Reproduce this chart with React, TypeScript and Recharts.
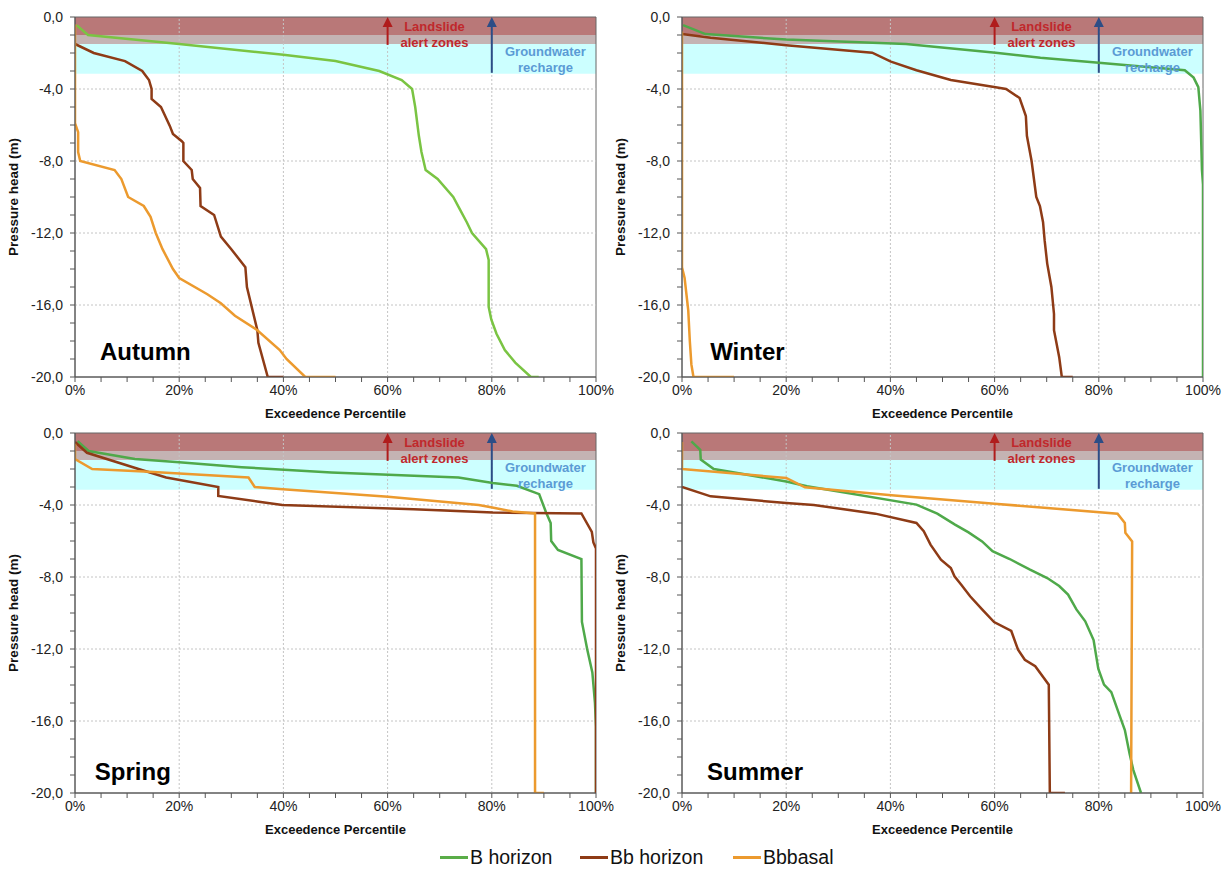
import {
  LineChart,
  Line,
  XAxis,
  YAxis,
  ReferenceArea,
  ReferenceLine,
  ReferenceDot,
} from "recharts"

type Pt = [number, number]

// exceedence percentile (%), pressure head (m)
const autumnB: Pt[] = [[0.3, -0.45], [2.5, -1.0], [20, -1.5], [40, -2.1], [50, -2.45], [58.4, -3.0], [62.7, -3.5], [64.7, -4.0], [65.3, -5.0], [66, -6.6], [66.5, -7.5], [67.3, -8.5], [69.6, -9.0], [72.6, -10.0], [73.9, -10.7], [75.2, -11.4], [76.2, -12.0], [78.9, -12.9], [79.4, -13.5], [79.4, -16.1], [79.9, -16.8], [80.9, -17.6], [82.5, -18.5], [84.5, -19.2], [87.5, -20], [89, -20]]
const autumnBb: Pt[] = [[0, -1.5], [3.6, -2.0], [9.6, -2.45], [12.9, -3.0], [14.2, -3.5], [14.7, -4.0], [14.7, -4.55], [16.5, -5.0], [18.2, -6.05], [18.8, -6.5], [20.5, -6.9], [20.8, -7.0], [20.8, -8.0], [22.4, -8.5], [22.6, -9.0], [24, -9.5], [24.1, -10.5], [26.7, -11.0], [28, -12.2], [30, -12.9], [32.7, -13.9], [33, -15.0], [35, -17.4], [35.2, -18.1], [37, -20], [40, -20]]
const autumnBbb: Pt[] = [[0, -0.4], [0, -5.9], [0.6, -6.4], [0.6, -7.5], [1, -8.0], [7.6, -8.5], [8.9, -9.0], [10.2, -10.0], [13.2, -10.5], [14.5, -11.1], [15.5, -12.0], [16.8, -12.9], [18.8, -14.0], [20, -14.5], [25.4, -15.4], [28, -15.9], [30.7, -16.6], [35, -17.4], [39.3, -18.5], [40.6, -19.0], [44.2, -20], [50, -20]]

const winterB: Pt[] = [[0.2, -0.45], [4.5, -0.95], [20, -1.25], [43, -1.5], [60.2, -1.98], [68.8, -2.26], [80, -2.54], [96.5, -2.96], [98.2, -3.37], [99.1, -3.9], [99.5, -5.2], [99.8, -8.5], [100, -9.3], [100, -20]]
const winterBb: Pt[] = [[0, -0.95], [5.5, -1.15], [20, -1.57], [36.5, -1.98], [40.1, -2.48], [45, -2.96], [51.6, -3.5], [60.2, -3.9], [62.2, -4.0], [64.8, -4.5], [66, -5.5], [66.2, -6.6], [67.1, -8.0], [68, -10.0], [68.7, -10.5], [69.3, -11.4], [69.6, -12.4], [70.1, -13.7], [70.9, -15.0], [71.4, -16.5], [71.4, -17.4], [72.4, -18.9], [72.9, -20], [75, -20]]
const winterBbb: Pt[] = [[0, -0.8], [0, -13.9], [0.5, -14.5], [1.2, -16.3], [1.5, -18.0], [1.8, -19.3], [2.2, -20], [10, -20]]

const springB: Pt[] = [[0.5, -0.45], [2.6, -1.0], [11.5, -1.45], [20, -1.63], [32, -1.9], [49.2, -2.19], [73.6, -2.47], [80.2, -2.78], [84.8, -2.93], [89.1, -3.4], [90.4, -4.4], [91.3, -5.0], [91.4, -6.0], [92.7, -6.5], [97.2, -7.0], [97.3, -10.5], [98.3, -12.0], [99.3, -13.3], [99.8, -15.0], [100, -16.3], [100, -20]]
const springBb: Pt[] = [[0, -0.5], [2.3, -1.1], [12.2, -2.0], [17.5, -2.47], [27.5, -3.0], [27.5, -3.5], [35.3, -3.82], [39.8, -4.0], [65, -4.23], [80.2, -4.42], [97.2, -4.47], [99.2, -5.5], [99.5, -6.08], [100, -6.42], [100, -20]]
const springBbb: Pt[] = [[0, -0.6], [0, -1.45], [3.3, -2.0], [14.2, -2.15], [33.3, -2.47], [34.5, -3.0], [39.9, -3.12], [60.1, -3.54], [77.5, -4.0], [80.1, -4.14], [84, -4.36], [88.3, -4.47], [88.3, -20], [90, -20]]

const summerB: Pt[] = [[1.8, -0.46], [3.5, -0.93], [3.6, -1.48], [6.1, -2.0], [20, -2.69], [24, -2.96], [45, -3.98], [49, -4.48], [52.4, -5.09], [55, -5.52], [57.6, -6.02], [59.6, -6.57], [62.9, -7.0], [66.8, -7.59], [70.1, -8.06], [72.4, -8.5], [74.1, -8.98], [75.7, -9.8], [77.4, -10.46], [79, -11.5], [79.9, -13.1], [81, -13.98], [82.4, -14.4], [84, -15.7], [85, -16.5], [85.9, -17.8], [86.6, -18.7], [88.1, -20]]
const summerBb: Pt[] = [[0, -3.0], [5.5, -3.52], [20, -3.89], [25.3, -4.0], [37.1, -4.48], [45, -5.0], [46.4, -5.46], [47.7, -6.2], [49.7, -7.04], [51.6, -7.5], [52.3, -7.96], [53.6, -8.43], [55.3, -9.07], [57.6, -9.8], [59.9, -10.5], [63.2, -11.0], [64.5, -12.04], [65.8, -12.6], [67.8, -12.96], [70.4, -13.98], [70.6, -20], [73.5, -20]]
const summerBbb: Pt[] = [[0, -0.5], [0, -2.0], [20, -2.5], [23.6, -3.02], [40.2, -3.46], [60, -3.93], [83.6, -4.48], [85, -5.0], [85.1, -5.55], [86.4, -6.02], [86.2, -20]]

const xTicks = [0, 5, 10, 15, 20, 25, 30, 35, 40, 45, 50, 55, 60, 65, 70, 75, 80, 85, 90, 95, 100]
const xLabels = [0, 20, 40, 60, 80, 100]
const yTicks = [0, -1, -2, -3, -4, -5, -6, -7, -8, -9, -10, -11, -12, -13, -14, -15, -16, -17, -18, -19, -20]
const yLabels = [0, -4, -8, -12, -16, -20]
const gridX = [20, 40, 60, 80]
const gridY = [-4, -8, -12, -16]

// zones (m)
const landslideZone = [0, -1]
const transitionZone = [-1, -1.5]
const rechargeZone = [-1.5, -3.15]
const landslideArrow = [-1.55, 0]
const rechargeArrow = [-3.1, 0]

const seriesNames = ["B horizon", "Bb horizon", "Bbbasal"]
const BROWN = "#8e3b16"
const ORANGE = "#ec9a2e"
const FONT = "'Liberation Sans', Arial, sans-serif"

const toRows = (pts: Pt[]) => pts.map(([x, y]) => ({ x, y }))

const arrowShape = (color: string) => (p: any) => {
  const { x1, y1, x2, y2 } = p
  return (
    <g>
      <line x1={x1} y1={y1} x2={x2} y2={y2 + 8} stroke={color} strokeWidth={2} />
      <polygon points={`${x2 - 5},${y2 + 10} ${x2 + 5},${y2 + 10} ${x2},${y2}`} fill={color} />
    </g>
  )
}

const textShape = (text: string, color: string, size: number, anchor: string) => (p: any) => (
  <text
    x={p.cx}
    y={p.cy}
    fill={color}
    fontSize={size}
    fontWeight="bold"
    fontFamily={FONT}
    textAnchor={anchor}
    dominantBaseline="central"
  >
    {text}
  </text>
)

type PanelProps = {
  season: string
  green: string
  b: Pt[]
  bb: Pt[]
  bbb: Pt[]
  left: number
  top: number
  labelX: number
  labelY: number
}

function Panel({ season, green, b, bb, bbb, left, top, labelX, labelY }: PanelProps) {
  return (
    <div style={{ position: "absolute", left, top }}>
      <LineChart width={622} height={422} margin={{ top: 17, right: 26, bottom: 0, left: 10 }}>
        <XAxis
          type="number"
          dataKey="x"
          domain={[0, 100]}
          ticks={xTicks}
          interval={0}
          allowDataOverflow
          tickFormatter={(v: number) => (xLabels.includes(v) ? `${v}%` : "")}
          tick={{ fill: "#222", fontSize: 14, fontFamily: FONT }}
          tickSize={5}
          tickMargin={3}
          axisLine={{ stroke: "#555" }}
          tickLine={{ stroke: "#555" }}
          height={45}
          label={{
            value: "Exceedence Percentile",
            position: "insideBottom",
            offset: 4,
            fill: "#111",
            fontSize: 13,
            fontWeight: "bold",
            fontFamily: FONT,
          }}
        />
        <YAxis
          type="number"
          domain={[-20, 0]}
          ticks={yTicks}
          interval={0}
          allowDataOverflow
          tickFormatter={(v: number) => (yLabels.includes(v) ? `${v},0` : "")}
          tick={{ fill: "#222", fontSize: 14, fontFamily: FONT }}
          tickSize={5}
          tickMargin={7}
          axisLine={{ stroke: "#555" }}
          tickLine={{ stroke: "#555" }}
          width={65}
          label={{
            value: "Pressure head (m)",
            angle: -90,
            position: "insideLeft",
            offset: 3,
            fill: "#111",
            fontSize: 13.5,
            fontWeight: "bold",
            fontFamily: FONT,
            style: { textAnchor: "middle" },
          }}
        />
        <ReferenceArea y1={landslideZone[0]} y2={landslideZone[1]} fill="#b97878" fillOpacity={1} stroke="none" />
        <ReferenceArea y1={transitionZone[0]} y2={transitionZone[1]} fill="#c4b3b3" fillOpacity={1} stroke="none" />
        <ReferenceArea y1={rechargeZone[0]} y2={rechargeZone[1]} fill="#ccffff" fillOpacity={1} stroke="none" />
        {gridX.map((v) => (
          <ReferenceLine key={"gx" + v} x={v} stroke="#c4c4c4" strokeDasharray="2 2" />
        ))}
        {gridY.map((v) => (
          <ReferenceLine key={"gy" + v} y={v} stroke="#c4c4c4" strokeDasharray="2 2" />
        ))}
        <ReferenceLine
          segment={[{ x: 60, y: landslideArrow[0] }, { x: 60, y: landslideArrow[1] }]}
          stroke="#b01c1c"
          shape={arrowShape("#b01c1c")}
        />
        <ReferenceLine
          segment={[{ x: 80, y: rechargeArrow[0] }, { x: 80, y: rechargeArrow[1] }]}
          stroke="#2c4d86"
          shape={arrowShape("#2c4d86")}
        />
        <Line data={toRows(b)} dataKey="y" name={seriesNames[0]} stroke={green} strokeWidth={2.5} dot={false} isAnimationActive={false} />
        <Line data={toRows(bb)} dataKey="y" name={seriesNames[1]} stroke={BROWN} strokeWidth={2.5} dot={false} isAnimationActive={false} />
        <Line data={toRows(bbb)} dataKey="y" name={seriesNames[2]} stroke={ORANGE} strokeWidth={2.5} dot={false} isAnimationActive={false} />
        <ReferenceArea x1={0} x2={100} y1={-20} y2={0} fill="none" stroke="#666" strokeWidth={1} />
        <ReferenceDot x={69} y={-0.5} shape={textShape("Landslide", "#c0282c", 13, "middle")} />
        <ReferenceDot x={69} y={-1.42} shape={textShape("alert zones", "#c0282c", 13, "middle")} />
        <ReferenceDot x={90.3} y={-1.9} shape={textShape("Groundwater", "#5b9bd5", 13, "middle")} />
        <ReferenceDot x={90.3} y={-2.8} shape={textShape("recharge", "#5b9bd5", 13, "middle")} />
        <ReferenceDot x={labelX} y={labelY} shape={textShape(season, "#000", 24, "start")} />
      </LineChart>
    </div>
  )
}

function LegendItem({ left, color, text }: { left: number; color: string; text: string }) {
  return (
    <div style={{ position: "absolute", left, top: 846, display: "flex", alignItems: "center", height: 22 }}>
      <div style={{ width: 28, height: 3, background: color }} />
      <span style={{ fontSize: 19.5, color: "#111", marginLeft: 2 }}>{text}</span>
    </div>
  )
}

export default function App() {
  return (
    <div
      style={{
        position: "absolute",
        left: 0,
        top: 0,
        width: 1231,
        height: 873,
        background: "#fff",
        fontFamily: FONT,
        overflow: "hidden",
      }}
    >
      <Panel season="Autumn" green="#7ac443" b={autumnB} bb={autumnBb} bbb={autumnBbb} left={0} top={0} labelX={4.8} labelY={-18.6} />
      <Panel season="Winter" green="#4fa94a" b={winterB} bb={winterBb} bbb={winterBbb} left={607} top={0} labelX={5.4} labelY={-18.6} />
      <Panel season="Spring" green="#4fa94a" b={springB} bb={springBb} bbb={springBbb} left={0} top={416} labelX={3.8} labelY={-18.8} />
      <Panel season="Summer" green="#4fa94a" b={summerB} bb={summerBb} bbb={summerBbb} left={607} top={416} labelX={4.8} labelY={-18.8} />
      <LegendItem left={440} color="#5aad48" text={seriesNames[0]} />
      <LegendItem left={580} color={BROWN} text={seriesNames[1]} />
      <LegendItem left={733} color={ORANGE} text={seriesNames[2]} />
    </div>
  )
}
